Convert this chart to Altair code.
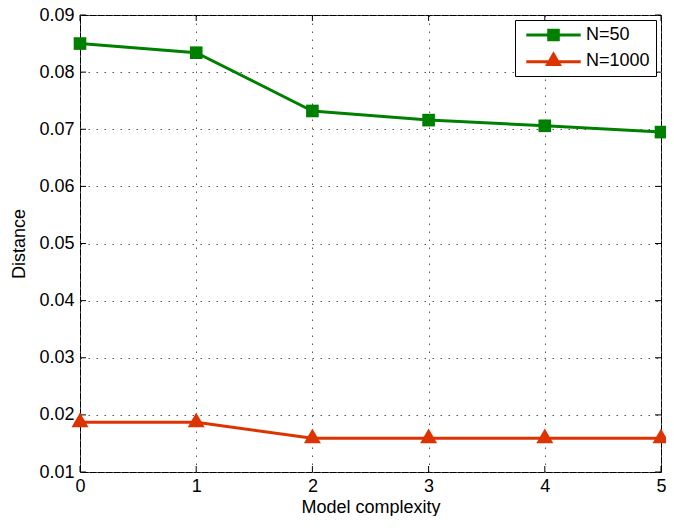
import altair as alt
import pandas as pd

# ---- data ----
complexity = [0, 1, 2, 3, 4, 5]
dist_n50 = [0.0850, 0.0834, 0.0732, 0.0716, 0.0706, 0.0695]
dist_n1000 = [0.0187, 0.0187, 0.0159, 0.0159, 0.0159, 0.0159]
series_names = ["N=50", "N=1000"]
series_colors = ["#008000", "#dd3300"]
x_ticks = [0, 1, 2, 3, 4, 5]
y_ticks = [0.01, 0.02, 0.03, 0.04, 0.05, 0.06, 0.07, 0.08, 0.09]

df = pd.DataFrame({
    "x": complexity * 2,
    "y": dist_n50 + dist_n1000,
    "series": [series_names[0]] * len(complexity) + [series_names[1]] * len(complexity),
})
xt = pd.DataFrame({"x": x_ticks})
yt = pd.DataFrame({"y": y_ticks})
legend_df = pd.DataFrame({"series": series_names})

W, H = 581, 457
FONT = "Liberation Sans"
FS = 18
TICK = 6

xs = alt.Scale(domain=[0, 5], nice=False, zero=False)
ys = alt.Scale(domain=[0.01, 0.09], nice=False, zero=False)
cs = alt.Scale(domain=series_names, range=series_colors)

# triangle with its centroid on the data point (MATLAB style)
tri = "M0,-1.155L1,0.577L-1,0.577Z"
legend_square = "M-3.2,-0.18H3.2V0.18H-3.2Z M-0.74,-0.74H0.74V0.74H-0.74Z"
legend_tri = "M-3.2,-0.1H3.2V0.26H-3.2Z M0,-1.155L1,0.577L-1,0.577Z"

X = alt.X("x:Q", scale=xs, axis=alt.Axis(values=x_ticks, format="d", title="Model complexity"))
Y = alt.Y("y:Q", scale=ys, axis=alt.Axis(values=y_ticks, format=".2f", title="Distance"))

leg = alt.Legend(
    title=None, orient="none", legendX=435, legendY=5,
    padding=6, rowPadding=7, columnPadding=0, symbolOffset=23.5, labelOffset=23.5,
    symbolSize=289, labelFont=FONT, labelFontSize=FS, labelColor="black",
    strokeColor="black", fillColor="white", symbolStrokeWidth=0,
)

base = alt.Chart(df)

lines = base.mark_line(strokeWidth=3).encode(
    x=X, y=Y, color=alt.Color("series:N", scale=cs, legend=None), detail="series:N"
)
squares = base.transform_filter(alt.datum.series == series_names[0]).mark_point(
    filled=True, opacity=1, size=160, shape="square"
).encode(x=X, y=Y, color=alt.Color("series:N", scale=cs, legend=None))
triangles = base.transform_filter(alt.datum.series == series_names[1]).mark_point(
    filled=True, opacity=1, size=289, shape=tri
).encode(x=X, y=Y, color=alt.Color("series:N", scale=cs, legend=None))

# legend-only layer: its symbols sit outside the clipped plot area
legend_layer = alt.Chart(legend_df).mark_point(
    filled=True, opacity=1, size=289, clip=True
).encode(
    x=alt.value(-400), y=alt.value(-400),
    color=alt.Color("series:N", scale=cs, legend=leg),
    shape=alt.Shape("series:N", scale=alt.Scale(domain=series_names, range=[legend_square, legend_tri]),
                    legend=leg),
)

# inward ticks on all four sides
tick_style = dict(color="black", strokeWidth=1)
xb = alt.Chart(xt).mark_rule(**tick_style).encode(x=X, y=alt.value(H), y2=alt.value(H - TICK))
xtop = alt.Chart(xt).mark_rule(**tick_style).encode(x=X, y=alt.value(0), y2=alt.value(TICK))
yl = alt.Chart(yt).mark_rule(**tick_style).encode(y=Y, x=alt.value(0), x2=alt.value(TICK))
yr = alt.Chart(yt).mark_rule(**tick_style).encode(y=Y, x=alt.value(W), x2=alt.value(W - TICK))

chart = alt.layer(legend_layer, xb, xtop, yl, yr, lines, squares, triangles).properties(
    width=W, height=H,
    autosize=alt.AutoSizeParams(type="none"),
    padding={"left": 72, "top": 7, "right": 5, "bottom": 44},
).configure_view(
    stroke="black", strokeWidth=1
).configure_axis(
    labelFont=FONT, titleFont=FONT, labelFontSize=FS, titleFontSize=FS,
    labelColor="black", titleColor="black", titleFontWeight="normal",
    domain=False, ticks=False, tickSize=0,
    grid=True, gridColor="#555555", gridDash=[1.5, 6.5], gridWidth=1, gridOpacity=1,
).configure_axisX(
    labelPadding=5, titlePadding=3, labelFlush=False,
).configure_axisY(
    labelPadding=6, titlePadding=10,
)

chart.save("out.html", embed_options={"renderer": "svg", "actions": False})
